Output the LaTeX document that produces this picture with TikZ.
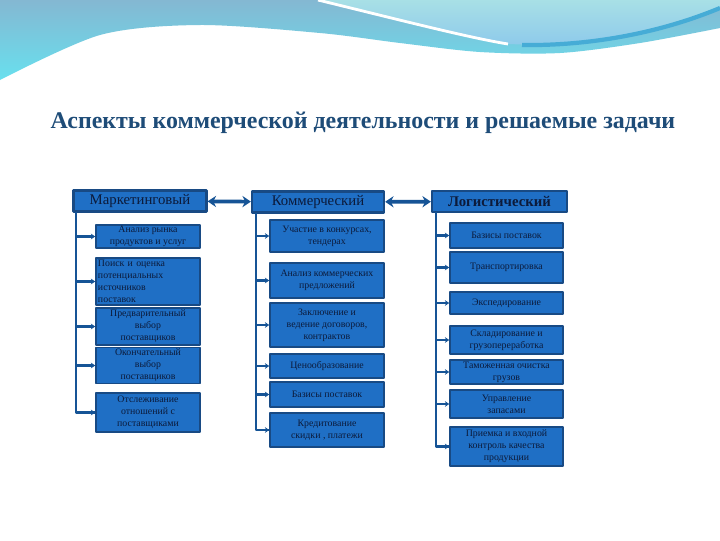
\documentclass[tikz,border=0pt]{standalone}
\usepackage{fontspec}
\setmainfont{Liberation Serif}
\usetikzlibrary{arrows.meta}
\definecolor{boxblue}{RGB}{31,111,197}
\definecolor{boxedge}{RGB}{24,74,132}
\definecolor{linkblue}{RGB}{22,84,150}
\definecolor{titleblue}{RGB}{30,76,120}
\definecolor{txtnavy}{RGB}{12,26,58}
\definecolor{wavetop}{RGB}{132,184,210}
\definecolor{wavebot}{RGB}{104,224,238}
\definecolor{bulgetop}{RGB}{168,224,230}
\definecolor{bulgebot}{RGB}{140,200,235}
\definecolor{waveband}{RGB}{70,172,214}
\tikzset{
  head/.style={draw=boxedge,line width=1.6pt,fill=boxblue,text=txtnavy,
    minimum height=0.525cm,inner sep=1pt,font=\fontsize{10.5}{12}\selectfont},
  task/.style={draw=boxedge,line width=1.2pt,fill=boxblue,text=txtnavy,align=center,
    inner sep=1pt,font=\fontsize{7}{8.6}\selectfont},
  trunk/.style={linkblue,line width=2pt},
  tick/.style={linkblue,line width=1.8pt,-{Stealth[length=3pt,width=4pt]}},
  link/.style={linkblue,line width=2.6pt,{Stealth[length=6pt,width=8pt]}-{Stealth[length=6pt,width=8pt]}}
}
\begin{document}
\begin{tikzpicture}[x=0.025cm,y=-0.025cm,line join=round]
\useasboundingbox (0,0) rectangle (720,540);
\fill[white] (0,0) rectangle (720,540);
% wave at the top
\shade[top color=wavetop,bottom color=wavebot]
  (0,0) -- (720,0)
  -- plot[smooth] coordinates {(720,28) (640,43) (560,53) (480,52) (400,43) (320,33) (200,25) (100,35) (0,80)}
  -- cycle;
\shade[top color=bulgetop,bottom color=bulgebot]
  (318,0) .. controls (400,20) and (470,38) .. (510,44)
  .. controls (580,48) and (660,35) .. (720,8) -- (720,0) -- cycle;
\draw[white,line width=2pt] (318,0) .. controls (400,20) and (470,38) .. (508,44);
\draw[waveband,line width=3pt] (522,45) .. controls (590,46) and (660,33) .. (720,8);
% title
\node[text=titleblue,font=\fontsize{17}{20}\selectfont\bfseries] (title) at (363,123)
  {Аспекты коммерческой деятельности и решаемые задачи};
% headers
\node[head,minimum width=3.325cm] (mark) at (140,201) {Маркетинговый};
\node[head,minimum width=3.3cm] (comm) at (318,202) {Коммерческий};
\node[head,minimum width=3.375cm,font=\fontsize{10.5}{12}\selectfont\bfseries] (logi) at (499.5,201.5) {Логистический};
\draw[link] (mark) -- (comm);
\draw[link] (comm) -- (logi);
% marketing
\node[task,minimum width=2.6cm,minimum height=0.575cm] (m1) at (148,236.5) {Анализ рынка\\продуктов и услуг};
\node[task,minimum width=2.6cm,minimum height=1.175cm,text width=2.5cm,align=left] (m2) at (148,281.5)
  {Поиск и оценка\\потенциальных\\источников\\поставок};
\node[task,minimum width=2.6cm,minimum height=0.925cm] (m3) at (148,326.5) {Предварительный\\выбор\\поставщиков};
\node[task,minimum width=2.6cm,minimum height=0.875cm] (m4) at (148,365.5) {Окончательный\\выбор\\поставщиков};
\node[task,minimum width=2.6cm,minimum height=0.975cm] (m5) at (148,412.5) {Отслеживание\\отношений с\\поставщиками};
\coordinate (mt) at (76,212);
\draw[trunk] (mt) -- (mt |- m5.west) -- (m5.west);
\foreach \n in {m1,m2,m3,m4,m5} \draw[tick] (mt |- \n.west) -- (\n.west);
% commercial
\node[task,minimum width=2.85cm,minimum height=0.8cm] (k1) at (327,236) {Участие в конкурсах,\\тендерах};
\node[task,minimum width=2.85cm,minimum height=0.875cm] (k2) at (327,280.5) {Анализ коммерческих\\предложений};
\node[task,minimum width=2.85cm,minimum height=1.1cm] (k3) at (327,325) {Заключение и\\ведение договоров,\\контрактов};
\node[task,minimum width=2.85cm,minimum height=0.6cm] (k4) at (327,366) {Ценообразование};
\node[task,minimum width=2.85cm,minimum height=0.625cm] (k5) at (327,394.5) {Базисы поставок};
\node[task,minimum width=2.85cm,minimum height=0.85cm] (k6) at (327,430) {Кредитование\\скидки , платежи};
\coordinate (kt) at (256,213);
\draw[trunk] (kt) -- (kt |- k6.west) -- (k6.west);
\foreach \n in {k1,k2,k3,k4,k5,k6} \draw[tick] (kt |- \n.west) -- (\n.west);
% logistic
\node[task,minimum width=2.825cm,minimum height=0.625cm] (l1) at (506.5,235.5) {Базисы поставок};
\node[task,minimum width=2.825cm,minimum height=0.775cm] (l2) at (506.5,267.5) {Транспортировка};
\node[task,minimum width=2.825cm,minimum height=0.55cm] (l3) at (506.5,303) {Экспедирование};
\node[task,minimum width=2.825cm,minimum height=0.7cm] (l4) at (506.5,340) {Складирование и\\грузопереработка};
\node[task,minimum width=2.825cm,minimum height=0.6cm] (l5) at (506.5,372) {Таможенная очистка\\грузов};
\node[task,minimum width=2.825cm,minimum height=0.7cm] (l6) at (506.5,404) {Управление\\запасами};
\node[task,minimum width=2.825cm,minimum height=0.975cm] (l7) at (506.5,446.5) {Приемка и входной\\контроль качества\\продукции};
\coordinate (lt) at (436,212);
\draw[trunk] (lt) -- (lt |- l7.west) -- (l7.west);
\foreach \n in {l1,l2,l3,l4,l5,l6,l7} \draw[tick] (lt |- \n.west) -- (\n.west);
\end{tikzpicture}
\end{document}
